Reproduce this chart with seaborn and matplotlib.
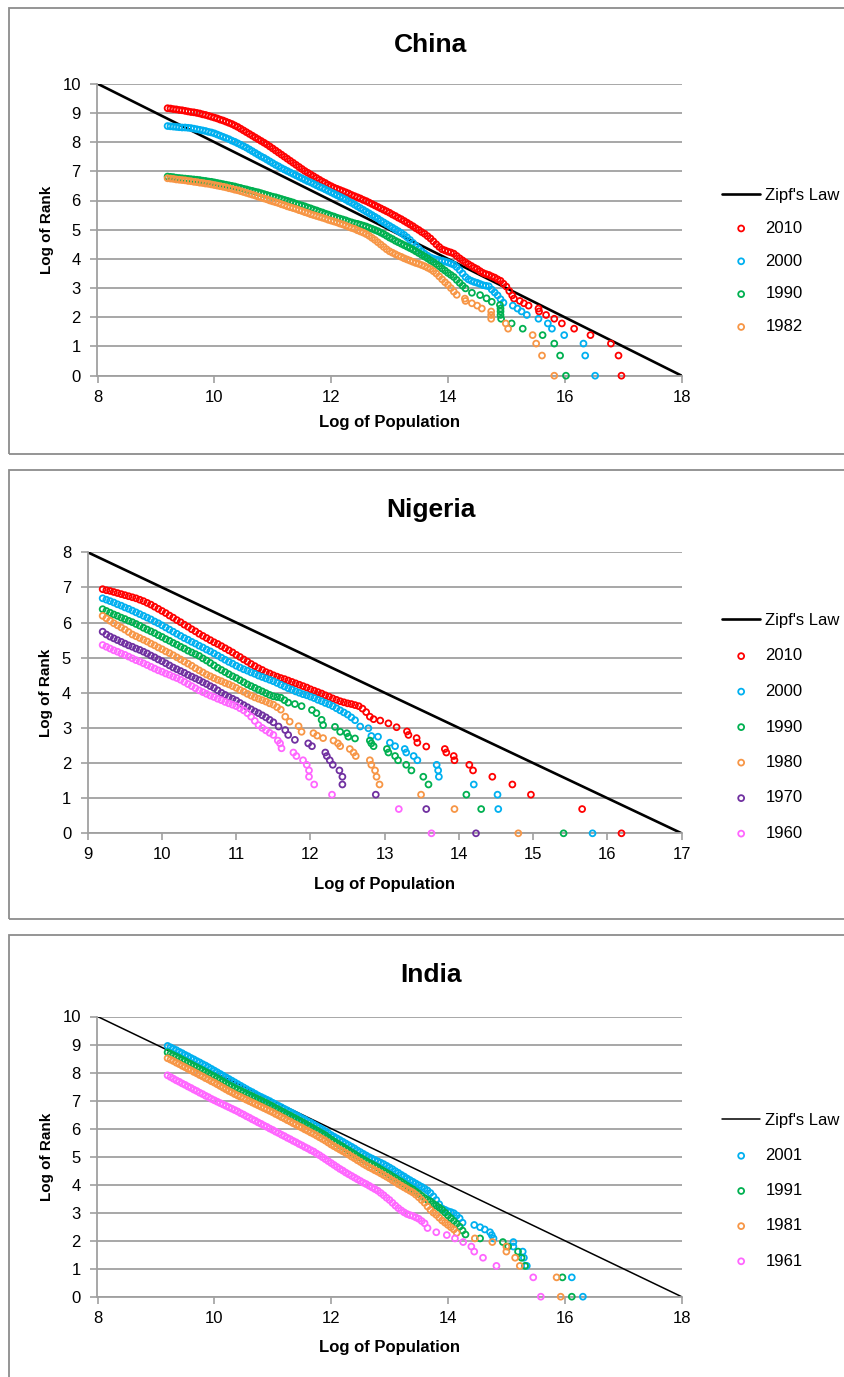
import matplotlib.pyplot as plt
import seaborn as sns
from matplotlib.patches import Rectangle

sns.set_theme(style='white')
plt.rcParams['font.family'] = ['Liberation Sans Narrow', 'Liberation Sans', 'DejaVu Sans']
plt.rcParams['text.color'] = 'black'
plt.rcParams['axes.labelcolor'] = 'black'

# colours used by the original spreadsheet chart
RED = '#FF0000'
BLUE = '#00B0F0'
GREEN = '#00B050'
ORANGE = '#F79646'
PURPLE = '#7030A0'
PINK = '#FF66FF'
GRID = '#A0A0A0'

# log-population positions where the dense part of each curve was read (all panels)
read_x = [9.2, 9.25, 9.3, 9.35, 9.4, 9.45, 9.5, 9.55, 9.6, 9.65, 9.7, 9.75, 9.8, 9.85, 9.9, 9.95,
          10.0, 10.05, 10.1, 10.15, 10.2, 10.25, 10.3, 10.35, 10.4, 10.45, 10.5, 10.55, 10.6, 10.65,
          10.7, 10.75, 10.8, 10.85, 10.9, 10.95, 11.0, 11.05, 11.1, 11.15, 11.2, 11.25, 11.3, 11.35,
          11.4, 11.45, 11.5, 11.55, 11.6, 11.65, 11.7, 11.75, 11.8, 11.85, 11.9, 11.95, 12.0, 12.05,
          12.1, 12.15, 12.2, 12.25, 12.3, 12.35, 12.4, 12.45, 12.5, 12.55, 12.6, 12.65, 12.7, 12.75,
          12.8, 12.85, 12.9, 12.95, 13.0, 13.05, 13.1, 13.15, 13.2, 13.25, 13.3, 13.35, 13.4, 13.45,
          13.5, 13.55, 13.6, 13.65, 13.7, 13.75, 13.8, 13.85, 13.9, 13.95, 14.0, 14.05, 14.1, 14.15,
          14.2, 14.25, 14.3, 14.35, 14.4, 14.45, 14.5, 14.55, 14.6, 14.65, 14.7, 14.75, 14.8, 14.85,
          14.9, 14.95, 15.0, 15.05, 15.1]

# ---------------- China ----------------
china_zipf_x = [8, 18]
china_zipf_y = [10, 0]
china_2010 = [9.16, 9.15, 9.13, 9.12, 9.10, 9.09, 9.07, 9.05, 9.03, 9.02, 9.00, 8.98, 8.95, 8.93,
              8.90, 8.87, 8.84, 8.81, 8.77, 8.74, 8.70, 8.66, 8.62, 8.57, 8.52, 8.46, 8.40, 8.34,
              8.28, 8.22, 8.16, 8.10, 8.04, 7.98, 7.92, 7.85, 7.78, 7.71, 7.64, 7.57, 7.50, 7.43,
              7.36, 7.29, 7.22, 7.15, 7.08, 7.01, 6.95, 6.89, 6.83, 6.77, 6.71, 6.65, 6.60, 6.54,
              6.49, 6.44, 6.40, 6.36, 6.32, 6.28, 6.24, 6.19, 6.15, 6.11, 6.07, 6.02, 5.98, 5.93,
              5.88, 5.83, 5.78, 5.73, 5.68, 5.63, 5.58, 5.52, 5.47, 5.41, 5.36, 5.30, 5.24, 5.18,
              5.12, 5.05, 4.99, 4.92, 4.86, 4.78, 4.70, 4.60, 4.50, 4.41, 4.33, 4.29, 4.25, 4.22,
              4.18, 4.10, 4.02, 3.95, 3.88, 3.82, 3.76, 3.70, 3.65, 3.58, 3.52, 3.48, 3.45, 3.40,
              3.36, 3.30, 3.25, 3.15, 3.05, 2.90, 2.75]
china_2010_tail_x = [15.13, 15.23, 15.30, 15.38, 15.55, 15.56, 15.68, 15.82, 15.95, 16.16, 16.44,
                     16.79, 16.92, 16.97]
china_2010_tail_y = [2.64, 2.56, 2.48, 2.40, 2.30, 2.20, 2.08, 1.95, 1.79, 1.61, 1.39, 1.10, 0.69,
                     0.00]
china_2000 = [8.55, 8.54, 8.53, 8.52, 8.51, 8.50, 8.50, 8.49, 8.48, 8.46, 8.44, 8.42, 8.40, 8.38,
              8.35, 8.33, 8.30, 8.26, 8.22, 8.18, 8.14, 8.10, 8.05, 8.01, 7.96, 7.91, 7.86, 7.81,
              7.75, 7.69, 7.63, 7.57, 7.51, 7.46, 7.40, 7.34, 7.28, 7.22, 7.17, 7.11, 7.06, 7.01,
              6.96, 6.91, 6.86, 6.81, 6.76, 6.71, 6.66, 6.62, 6.57, 6.52, 6.47, 6.43, 6.38, 6.33,
              6.28, 6.23, 6.18, 6.13, 6.08, 6.03, 5.97, 5.92, 5.86, 5.80, 5.74, 5.68, 5.62, 5.56,
              5.50, 5.44, 5.38, 5.31, 5.25, 5.19, 5.13, 5.07, 5.01, 4.95, 4.89, 4.82, 4.74, 4.65,
              4.55, 4.45, 4.35, 4.26, 4.18, 4.11, 4.05, 4.01, 3.98, 3.96, 3.94, 3.91, 3.88, 3.84,
              3.80, 3.72, 3.62, 3.50, 3.38, 3.30, 3.25, 3.21, 3.18, 3.14, 3.10, 3.08, 3.06, 2.95,
              2.85, 2.75, 2.62]
china_2000_tail_x = [14.95, 15.11, 15.19, 15.26, 15.35, 15.55, 15.71, 15.78, 15.99, 16.32, 16.35,
                     16.52]
china_2000_tail_y = [2.50, 2.40, 2.30, 2.20, 2.08, 1.95, 1.79, 1.61, 1.39, 1.10, 0.69, 0.00]
china_1990 = [6.82, 6.81, 6.80, 6.78, 6.77, 6.76, 6.75, 6.74, 6.73, 6.72, 6.71, 6.70, 6.68, 6.67,
              6.65, 6.64, 6.62, 6.60, 6.58, 6.56, 6.54, 6.52, 6.50, 6.48, 6.45, 6.43, 6.40, 6.38,
              6.35, 6.33, 6.30, 6.28, 6.25, 6.22, 6.19, 6.16, 6.13, 6.11, 6.08, 6.05, 6.02, 5.99,
              5.96, 5.93, 5.89, 5.86, 5.83, 5.80, 5.76, 5.73, 5.69, 5.66, 5.62, 5.59, 5.55, 5.52,
              5.48, 5.45, 5.41, 5.38, 5.35, 5.32, 5.28, 5.25, 5.22, 5.20, 5.17, 5.14, 5.11, 5.07,
              5.03, 4.99, 4.95, 4.90, 4.85, 4.79, 4.73, 4.68, 4.62, 4.57, 4.52, 4.47, 4.42, 4.37,
              4.32, 4.26, 4.20, 4.14, 4.08, 4.02, 3.95, 3.89, 3.82, 3.75, 3.67, 3.60, 3.52, 3.45,
              3.38, 3.28, 3.18, 3.08, 2.99]
china_1990_tail_x = [14.41, 14.55, 14.66, 14.75, 14.89, 14.90, 14.90, 14.90, 14.91, 15.09, 15.28,
                     15.62, 15.82, 15.92, 16.02]
china_1990_tail_y = [2.84, 2.76, 2.65, 2.53, 2.42, 2.30, 2.20, 2.08, 1.95, 1.79, 1.61, 1.39, 1.10,
                     0.69, 0.00]
china_1982 = [6.76, 6.75, 6.74, 6.72, 6.71, 6.70, 6.69, 6.67, 6.66, 6.64, 6.63, 6.61, 6.60, 6.58,
              6.57, 6.55, 6.53, 6.51, 6.49, 6.47, 6.45, 6.42, 6.40, 6.37, 6.35, 6.32, 6.29, 6.26,
              6.23, 6.20, 6.17, 6.13, 6.10, 6.07, 6.04, 6.00, 5.97, 5.94, 5.91, 5.87, 5.84, 5.80,
              5.77, 5.74, 5.71, 5.67, 5.64, 5.60, 5.57, 5.53, 5.50, 5.47, 5.44, 5.41, 5.38, 5.34,
              5.31, 5.28, 5.25, 5.21, 5.18, 5.14, 5.10, 5.06, 5.03, 4.98, 4.94, 4.90, 4.85, 4.79,
              4.72, 4.65, 4.57, 4.49, 4.41, 4.33, 4.26, 4.21, 4.16, 4.11, 4.07, 4.02, 3.98, 3.94,
              3.90, 3.86, 3.83, 3.79, 3.75, 3.70, 3.65, 3.58, 3.50, 3.40, 3.30, 3.20, 3.11, 3.00,
              2.88]
china_1982_tail_x = [14.15, 14.29, 14.30, 14.41, 14.50, 14.58, 14.74, 14.74, 14.74, 14.99, 15.03,
                     15.45, 15.51, 15.61, 15.82]
china_1982_tail_y = [2.77, 2.64, 2.56, 2.48, 2.40, 2.30, 2.20, 2.08, 1.95, 1.79, 1.61, 1.39, 1.10,
                     0.69, 0.00]

# ---------------- Nigeria ----------------
nigeria_zipf_x = [9, 17]
nigeria_zipf_y = [8, 0]
nigeria_2010 = [6.95, 6.92, 6.90, 6.87, 6.84, 6.81, 6.78, 6.75, 6.72, 6.69, 6.65, 6.61, 6.56, 6.51,
                6.45, 6.39, 6.33, 6.27, 6.20, 6.14, 6.07, 6.01, 5.94, 5.88, 5.81, 5.75, 5.68, 5.62,
                5.56, 5.50, 5.44, 5.39, 5.33, 5.27, 5.21, 5.15, 5.08, 5.02, 4.95, 4.89, 4.82, 4.76,
                4.70, 4.65, 4.59, 4.55, 4.50, 4.46, 4.42, 4.39, 4.35, 4.31, 4.27, 4.23, 4.19, 4.15,
                4.10, 4.06, 4.02, 3.98, 3.93, 3.89, 3.84, 3.80, 3.76, 3.73, 3.70, 3.68, 3.65, 3.62,
                3.55, 3.45, 3.32]
nigeria_2010_tail_x = [12.85, 12.94, 13.05, 13.16, 13.30, 13.32, 13.43, 13.44, 13.56, 13.81, 13.83,
                       13.93, 13.94, 14.14, 14.19, 14.45, 14.72, 14.97, 15.66, 16.19]
nigeria_2010_tail_y = [3.25, 3.21, 3.13, 3.02, 2.90, 2.80, 2.71, 2.58, 2.47, 2.40, 2.30, 2.20, 2.08,
                       1.95, 1.79, 1.61, 1.39, 1.10, 0.69, 0.00]
nigeria_2000 = [6.69, 6.65, 6.61, 6.57, 6.52, 6.48, 6.43, 6.39, 6.34, 6.29, 6.24, 6.19, 6.14, 6.09,
                6.03, 5.98, 5.92, 5.86, 5.80, 5.74, 5.68, 5.62, 5.56, 5.51, 5.45, 5.40, 5.34, 5.29,
                5.23, 5.18, 5.12, 5.06, 5.00, 4.94, 4.88, 4.83, 4.77, 4.72, 4.67, 4.63, 4.58, 4.54,
                4.49, 4.45, 4.41, 4.37, 4.33, 4.28, 4.23, 4.18, 4.13, 4.09, 4.04, 4.00, 3.96, 3.93,
                3.89, 3.85, 3.80, 3.76, 3.71, 3.67, 3.62, 3.56, 3.50, 3.44, 3.38, 3.30, 3.22]
nigeria_2000_tail_x = [12.67, 12.78, 12.82, 12.91, 13.07, 13.14, 13.27, 13.29, 13.39, 13.44, 13.70,
                       13.72, 13.73, 14.20, 14.52, 14.53, 15.80]
nigeria_2000_tail_y = [3.04, 2.99, 2.77, 2.75, 2.58, 2.48, 2.40, 2.30, 2.20, 2.08, 1.95, 1.79, 1.61,
                       1.39, 1.10, 0.69, 0.00]
nigeria_1990 = [6.38, 6.33, 6.28, 6.23, 6.19, 6.14, 6.10, 6.05, 6.01, 5.96, 5.91, 5.85, 5.80, 5.75,
                5.70, 5.64, 5.59, 5.53, 5.48, 5.42, 5.37, 5.31, 5.26, 5.20, 5.15, 5.10, 5.05, 4.98,
                4.92, 4.85, 4.78, 4.71, 4.65, 4.59, 4.53, 4.47, 4.42, 4.36, 4.30, 4.24, 4.19, 4.14,
                4.09, 4.04, 3.99, 3.94, 3.90, 3.88, 3.86, 3.79, 3.72]
nigeria_1990_tail_x = [11.79, 11.88, 12.02, 12.08, 12.15, 12.17, 12.33, 12.40, 12.49, 12.51, 12.60,
                       12.80, 12.82, 12.85, 13.03, 13.05, 13.14, 13.18, 13.29, 13.36, 13.52, 13.59,
                       14.10, 14.30, 15.41]
nigeria_1990_tail_y = [3.68, 3.62, 3.51, 3.42, 3.23, 3.08, 3.03, 2.89, 2.85, 2.75, 2.70, 2.64, 2.56,
                       2.48, 2.40, 2.30, 2.20, 2.08, 1.95, 1.79, 1.61, 1.39, 1.10, 0.69, 0.00]
nigeria_1980 = [6.19, 6.12, 6.05, 5.98, 5.92, 5.86, 5.80, 5.73, 5.66, 5.61, 5.56, 5.51, 5.46, 5.40,
                5.35, 5.29, 5.24, 5.18, 5.13, 5.07, 5.01, 4.95, 4.89, 4.83, 4.77, 4.70, 4.64, 4.58,
                4.52, 4.47, 4.42, 4.37, 4.33, 4.28, 4.24, 4.19, 4.14, 4.08, 4.03, 3.97, 3.92, 3.87,
                3.83, 3.79, 3.75, 3.70, 3.66, 3.59, 3.52]
nigeria_1980_tail_x = [11.66, 11.72, 11.84, 11.88, 12.04, 12.09, 12.17, 12.31, 12.37, 12.40, 12.53,
                       12.58, 12.61, 12.80, 12.82, 12.87, 12.89, 12.93, 13.49, 13.94, 14.80]
nigeria_1980_tail_y = [3.32, 3.18, 3.05, 2.89, 2.85, 2.78, 2.71, 2.64, 2.56, 2.48, 2.40, 2.30, 2.20,
                       2.08, 1.95, 1.79, 1.61, 1.39, 1.10, 0.69, 0.00]
nigeria_1970 = [5.74, 5.66, 5.60, 5.55, 5.50, 5.45, 5.40, 5.35, 5.31, 5.26, 5.22, 5.17, 5.12, 5.06,
                5.01, 4.95, 4.90, 4.84, 4.78, 4.72, 4.67, 4.62, 4.57, 4.51, 4.46, 4.41, 4.36, 4.30,
                4.25, 4.19, 4.14, 4.07, 4.00, 3.94, 3.88, 3.83, 3.78, 3.71, 3.65, 3.59, 3.53, 3.47,
                3.42, 3.36, 3.30, 3.23, 3.16]
nigeria_1970_tail_x = [11.57, 11.66, 11.70, 11.79, 11.97, 12.02, 12.20, 12.22, 12.26, 12.30, 12.39,
                       12.43, 12.43, 12.88, 13.56, 14.23]
nigeria_1970_tail_y = [3.04, 2.94, 2.80, 2.66, 2.56, 2.48, 2.30, 2.20, 2.08, 1.95, 1.79, 1.61, 1.39,
                       1.10, 0.69, 0.00]
nigeria_1960 = [5.36, 5.31, 5.26, 5.21, 5.17, 5.12, 5.08, 5.03, 4.98, 4.93, 4.89, 4.84, 4.79, 4.74,
                4.69, 4.64, 4.60, 4.55, 4.51, 4.46, 4.42, 4.37, 4.31, 4.25, 4.19, 4.13, 4.07, 4.02,
                3.97, 3.92, 3.88, 3.83, 3.79, 3.74, 3.70, 3.66, 3.62, 3.56, 3.50, 3.42, 3.32, 3.20,
                3.08, 3.00, 2.93, 2.86, 2.80]
nigeria_1960_tail_x = [11.56, 11.59, 11.61, 11.77, 11.81, 11.90, 11.95, 11.98, 11.98, 12.05, 12.29,
                       13.19, 13.63]
nigeria_1960_tail_y = [2.64, 2.56, 2.42, 2.30, 2.20, 2.08, 1.95, 1.79, 1.61, 1.39, 1.10, 0.69, 0.00]

# ---------------- India ----------------
india_zipf_x = [8, 18]
india_zipf_y = [10, 0]
india_2001 = [8.95, 8.90, 8.85, 8.80, 8.74, 8.69, 8.63, 8.58, 8.52, 8.47, 8.41, 8.36, 8.30, 8.25,
              8.19, 8.13, 8.07, 8.01, 7.95, 7.89, 7.83, 7.77, 7.71, 7.65, 7.59, 7.53, 7.47, 7.41,
              7.35, 7.30, 7.24, 7.18, 7.13, 7.08, 7.03, 6.98, 6.92, 6.87, 6.81, 6.76, 6.70, 6.65,
              6.59, 6.54, 6.48, 6.43, 6.37, 6.32, 6.26, 6.21, 6.15, 6.09, 6.03, 5.97, 5.91, 5.84,
              5.77, 5.71, 5.65, 5.59, 5.53, 5.47, 5.41, 5.35, 5.29, 5.22, 5.16, 5.10, 5.04, 4.98,
              4.93, 4.88, 4.83, 4.78, 4.73, 4.67, 4.61, 4.55, 4.48, 4.42, 4.35, 4.29, 4.22, 4.16,
              4.10, 4.04, 3.98, 3.92, 3.86, 3.79, 3.70, 3.58, 3.45, 3.30, 3.15, 3.10, 3.05, 3.02,
              2.98, 2.90, 2.80]
india_2001_tail_x = [14.25, 14.45, 14.55, 14.63, 14.72, 14.75, 14.78, 15.12, 15.12, 15.28, 15.30,
                     15.35, 16.12, 16.31]
india_2001_tail_y = [2.64, 2.56, 2.48, 2.40, 2.30, 2.20, 2.08, 1.95, 1.79, 1.61, 1.39, 1.10, 0.69,
                     0.00]
india_1991 = [8.72, 8.67, 8.62, 8.57, 8.52, 8.46, 8.41, 8.35, 8.30, 8.24, 8.19, 8.13, 8.08, 8.02,
              7.97, 7.91, 7.86, 7.80, 7.74, 7.68, 7.62, 7.56, 7.51, 7.45, 7.40, 7.35, 7.30, 7.25,
              7.20, 7.15, 7.10, 7.05, 7.00, 6.95, 6.90, 6.84, 6.79, 6.73, 6.68, 6.62, 6.57, 6.51,
              6.46, 6.40, 6.35, 6.29, 6.24, 6.18, 6.12, 6.06, 6.00, 5.94, 5.88, 5.82, 5.76, 5.68,
              5.61, 5.54, 5.48, 5.41, 5.35, 5.28, 5.22, 5.15, 5.09, 5.02, 4.96, 4.90, 4.84, 4.78,
              4.73, 4.67, 4.61, 4.54, 4.48, 4.42, 4.36, 4.29, 4.23, 4.16, 4.10, 4.03, 3.96, 3.89,
              3.83, 3.75, 3.68, 3.60, 3.52, 3.46, 3.40, 3.32, 3.25, 3.18, 3.10, 3.00, 2.90, 2.80,
              2.70, 2.60, 2.50, 2.36, 2.22]
india_1991_tail_x = [14.55, 14.94, 15.03, 15.20, 15.26, 15.32, 15.96, 16.12]
india_1991_tail_y = [2.08, 1.95, 1.79, 1.61, 1.39, 1.10, 0.69, 0.00]
india_1981 = [8.51, 8.46, 8.41, 8.35, 8.30, 8.24, 8.19, 8.13, 8.08, 8.02, 7.97, 7.91, 7.86, 7.80,
              7.75, 7.69, 7.64, 7.58, 7.52, 7.46, 7.40, 7.34, 7.29, 7.23, 7.18, 7.13, 7.08, 7.03,
              6.98, 6.93, 6.88, 6.83, 6.78, 6.73, 6.68, 6.63, 6.58, 6.52, 6.47, 6.41, 6.36, 6.30,
              6.25, 6.19, 6.14, 6.08, 6.03, 5.97, 5.92, 5.86, 5.81, 5.75, 5.69, 5.63, 5.57, 5.50,
              5.43, 5.37, 5.31, 5.25, 5.19, 5.13, 5.07, 5.00, 4.94, 4.87, 4.81, 4.74, 4.68, 4.62,
              4.57, 4.51, 4.46, 4.40, 4.34, 4.28, 4.22, 4.15, 4.09, 4.02, 3.96, 3.90, 3.84, 3.78,
              3.72, 3.64, 3.55, 3.45, 3.35, 3.22, 3.10, 3.00, 2.92, 2.82, 2.72, 2.64, 2.56, 2.48,
              2.40]
india_1981_tail_x = [14.15, 14.46, 14.76, 15.00, 15.00, 15.15, 15.23, 15.86, 15.93]
india_1981_tail_y = [2.28, 2.08, 1.95, 1.79, 1.61, 1.39, 1.10, 0.69, 0.00]
india_1961 = [7.90, 7.84, 7.78, 7.72, 7.67, 7.61, 7.56, 7.50, 7.45, 7.39, 7.34, 7.28, 7.23, 7.17,
              7.12, 7.06, 7.01, 6.96, 6.91, 6.86, 6.81, 6.76, 6.71, 6.66, 6.61, 6.55, 6.50, 6.44,
              6.39, 6.33, 6.28, 6.22, 6.17, 6.11, 6.06, 6.00, 5.95, 5.89, 5.84, 5.78, 5.73, 5.67,
              5.62, 5.56, 5.51, 5.45, 5.40, 5.34, 5.29, 5.23, 5.18, 5.11, 5.05, 4.98, 4.91, 4.84,
              4.77, 4.70, 4.63, 4.56, 4.50, 4.43, 4.37, 4.31, 4.25, 4.19, 4.13, 4.07, 4.02, 3.96,
              3.90, 3.84, 3.78, 3.70, 3.62, 3.53, 3.45, 3.35, 3.25, 3.16, 3.08, 3.01, 2.95, 2.91,
              2.88, 2.83, 2.78, 2.70, 2.62]
india_1961_tail_x = [13.65, 13.80, 13.98, 14.12, 14.26, 14.40, 14.45, 14.60, 14.83, 15.46, 15.59]
india_1961_tail_y = [2.45, 2.30, 2.20, 2.08, 1.95, 1.79, 1.61, 1.39, 1.10, 0.69, 0.00]

W, H = 845, 1377
fig = plt.figure(figsize=(W / 100, H / 100), dpi=100)


def px_rect(left, top, right, bottom):
    # figure pixel box -> figure fraction [l, b, w, h]
    return [left / W, 1 - bottom / H, (right - left) / W, (bottom - top) / H]


def draw_panel(name, title_y, box, ax_box, series, zipf_x, zipf_y, xticks, yticks,
               zipf_lw, legend_top, spacing, ylabel_x, xlabel_y):
    # grey frame around the whole panel
    b = px_rect(*box)
    fig.add_artist(Rectangle((b[0], b[1]), b[2], b[3], transform=fig.transFigure,
                             fill=False, edgecolor='#8C8C8C', linewidth=1.3))
    fig.text(431 / W, 1 - title_y / H, name, ha='center', va='center',
             fontsize=19, fontweight='bold')

    ax = fig.add_axes(px_rect(*ax_box))
    sns.lineplot(x=zipf_x, y=zipf_y, ax=ax, color='black', linewidth=zipf_lw,
                 label="Zipf's Law", zorder=2)
    for label, color, dense, tx, ty in series:
        xs = read_x[:len(dense)] + tx
        ys = dense + ty
        sns.scatterplot(x=xs, y=ys, ax=ax, s=18, color=color, facecolor='none',
                        edgecolor=color, linewidth=1.3, label=label, zorder=3,
                        clip_on=False)

    ax.set_xlim(xticks[0], xticks[-1])
    ax.set_ylim(yticks[0], yticks[-1])
    ax.set_xticks(xticks)
    ax.set_yticks(yticks)
    ax.yaxis.grid(True, color=GRID, linewidth=1.3)
    ax.xaxis.grid(False)
    ax.set_axisbelow(True)
    for side in ['top', 'right']:
        ax.spines[side].set_visible(False)
    for side in ['left', 'bottom']:
        ax.spines[side].set_color(GRID)
        ax.spines[side].set_linewidth(1.3)
    ax.tick_params(axis='both', direction='out', length=5, width=1.2, color=GRID,
                   labelsize=12, labelcolor='black')
    ax.tick_params(axis='x', pad=5, bottom=True)
    ax.tick_params(axis='y', pad=7, left=True)

    ax.set_xlabel('Log of Population', fontsize=12, fontweight='bold')
    ax.set_ylabel('Log of Rank', fontsize=11, fontweight='bold',
                  family=['Liberation Sans', 'DejaVu Sans'])
    ax.xaxis.set_label_coords(0.5, xlabel_y)
    ax.yaxis.set_label_coords(ylabel_x, 0.5)

    ax.legend(loc='upper left', bbox_to_anchor=(722 / W, 1 - legend_top / H),
              bbox_transform=fig.transFigure, frameon=False, borderpad=0,
              borderaxespad=0, handlelength=2.3, handletextpad=0.3,
              labelspacing=spacing, fontsize=12, scatterpoints=1)
    return ax


draw_panel('China', 45, (9, 8, 900, 454), (97.5, 83.7, 681.6, 375.7),
           [('2010', RED, china_2010, china_2010_tail_x, china_2010_tail_y),
            ('2000', BLUE, china_2000, china_2000_tail_x, china_2000_tail_y),
            ('1990', GREEN, china_1990, china_1990_tail_x, china_1990_tail_y),
            ('1982', ORANGE, china_1982, china_1982_tail_x, china_1982_tail_y)],
           china_zipf_x, china_zipf_y, [8, 10, 12, 14, 16, 18], list(range(0, 11)),
           1.9, 188, 1.07, -0.075, -0.135)

draw_panel('Nigeria', 510, (9, 470, 900, 919), (87.8, 552.3, 681.6, 833.3),
           [('2010', RED, nigeria_2010, nigeria_2010_tail_x, nigeria_2010_tail_y),
            ('2000', BLUE, nigeria_2000, nigeria_2000_tail_x, nigeria_2000_tail_y),
            ('1990', GREEN, nigeria_1990, nigeria_1990_tail_x, nigeria_1990_tail_y),
            ('1980', ORANGE, nigeria_1980, nigeria_1980_tail_x, nigeria_1980_tail_y),
            ('1970', PURPLE, nigeria_1970, nigeria_1970_tail_x, nigeria_1970_tail_y),
            ('1960', PINK, nigeria_1960, nigeria_1960_tail_x, nigeria_1960_tail_y)],
           nigeria_zipf_x, nigeria_zipf_y, list(range(9, 18)), list(range(0, 9)),
           1.9, 613, 1.23, -0.058, -0.155)

draw_panel('India', 975, (9, 935, 900, 1390), (97.5, 1016.5, 681.6, 1296.7),
           [('2001', BLUE, india_2001, india_2001_tail_x, india_2001_tail_y),
            ('1991', GREEN, india_1991, india_1991_tail_x, india_1991_tail_y),
            ('1981', ORANGE, india_1981, india_1981_tail_x, india_1981_tail_y),
            ('1961', PINK, india_1961, india_1961_tail_x, india_1961_tail_y)],
           india_zipf_x, india_zipf_y, [8, 10, 12, 14, 16, 18], list(range(0, 11)),
           1.1, 1113, 1.21, -0.075, -0.155)

fig.savefig('out.png', dpi=100)
